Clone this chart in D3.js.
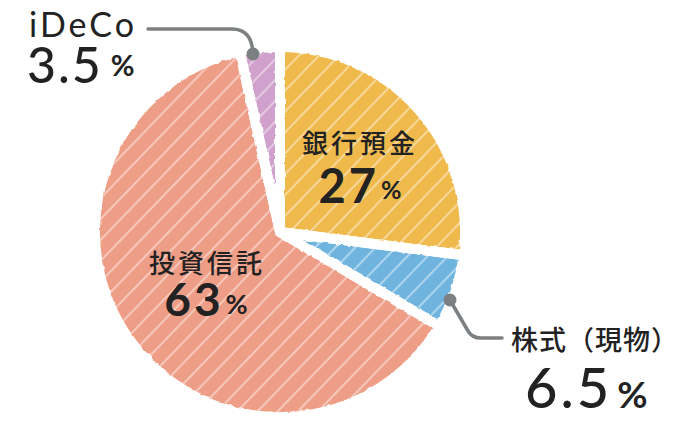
<!DOCTYPE html>
<html><head><meta charset="utf-8">
<script src="https://cdn.jsdelivr.net/npm/d3@7"></script>
<style>
html,body{margin:0;padding:0;background:#fff;}
svg{display:block;}
</style></head>
<body>
<svg id="chart" width="680" height="426"></svg>
<script>
const categories = ["銀行預金", "株式（現物）", "投資信託", "iDeCo"];
const values = [27, 6.5, 63, 3.5];
const valueLabels = ["27", "6.5", "63", "3.5"];
const colors = ["#EFB94C", "#6EB4DF", "#EE9D86", "#CFA1CC"];

const svg = d3.select("#chart");
const defs = svg.append("defs");

colors.forEach((c, i) => {
  const p = defs.append("pattern")
    .attr("id", "hatch" + i)
    .attr("patternUnits", "userSpaceOnUse")
    .attr("width", 20).attr("height", 14.5)
    .attr("patternTransform", "rotate(-46)");
  p.append("rect").attr("width", 20).attr("height", 14.5).attr("fill", c);
  p.append("line").attr("x1", 0).attr("x2", 20).attr("y1", 7).attr("y2", 7)
    .attr("stroke", "rgba(255,255,255,0.5)").attr("stroke-width", 1.8);
});

const f = defs.append("filter").attr("id", "rough")
  .attr("x", "-10%").attr("y", "-10%").attr("width", "120%").attr("height", "120%");
f.append("feTurbulence").attr("type", "fractalNoise").attr("baseFrequency", 0.15)
  .attr("numOctaves", 2).attr("seed", 3).attr("result", "n");
f.append("feDisplacementMap").attr("in", "SourceGraphic").attr("in2", "n")
  .attr("scale", 3).attr("xChannelSelector", "R").attr("yChannelSelector", "G");

const cx = 280, cy = 232, R = 185;
const pie = d3.pie().sort(null).value(d => d)(values);
const arc = d3.arc().innerRadius(0).outerRadius(R);

const g = svg.append("g").attr("transform", `translate(${cx},${cy})`);
g.selectAll("path.fill").data(pie).join("path")
  .attr("class", "fill")
  .attr("d", arc)
  .attr("fill", (d, i) => `url(#hatch${i})`);
g.selectAll("path.edge").data(pie).join("path")
  .attr("class", "edge")
  .attr("d", arc)
  .attr("fill", "none")
  .attr("stroke", "#fff")
  .attr("stroke-width", 10)
  .attr("stroke-linejoin", "round")
  .attr("filter", "url(#rough)");

// leader lines
const lineColor = "#7d8082";
svg.append("path").attr("d", "M148,29 H232 Q252,29 253,54")
  .attr("fill", "none").attr("stroke", lineColor).attr("stroke-width", 3.5).attr("stroke-linecap", "round");
svg.append("circle").attr("cx", 253).attr("cy", 54).attr("r", 6.5).attr("fill", lineColor);
svg.append("path").attr("d", "M450,300 L468,331 Q472,338 481,338 H502")
  .attr("fill", "none").attr("stroke", lineColor).attr("stroke-width", 3.5).attr("stroke-linecap", "round");
svg.append("circle").attr("cx", 450).attr("cy", 300).attr("r", 6.5).attr("fill", lineColor);

const jp = "'Noto Sans CJK JP','Noto Sans',sans-serif";
const num = "Lato,'Noto Sans',sans-serif";
const ink = "#222";

function catLabel(text, x, y, anchor, size, ls) {
  svg.append("text").attr("x", x).attr("y", y).attr("text-anchor", anchor)
    .attr("font-family", jp).attr("font-weight", 500).attr("font-size", size)
    .attr("letter-spacing", ls).attr("fill", ink).text(text);
}
function numLabel(v, x, y, anchor, size, pctSize, weight, raise, gap, ls) {
  const t = svg.append("text").attr("x", x).attr("y", y).attr("text-anchor", anchor)
    .attr("font-family", num).attr("fill", ink);
  t.append("tspan").attr("font-size", size).attr("font-weight", weight).attr("letter-spacing", ls).text(v);
  t.append("tspan").attr("font-size", pctSize).attr("font-weight", 700).attr("dx", gap).attr("dy", -raise).text("%");
}

// 銀行預金
catLabel(categories[0], 360, 153, "middle", 26, 3);
numLabel(valueLabels[0], 360, 203, "middle", 47, 25, 700, 4, 2, 3);
// 投資信託
catLabel(categories[2], 207, 273, "middle", 26, 3);
numLabel(valueLabels[2], 206, 316, "middle", 46, 27, 700, 2, 2, 3);
// iDeCo
svg.append("text").attr("x", 29).attr("y", 37).attr("font-family", num).attr("font-weight", 400)
  .attr("font-size", 34).attr("letter-spacing", 3).attr("fill", ink).text(categories[3]);
numLabel(valueLabels[3], 27, 83, "start", 50, 29, 500, 7, 8, 2);
// 株式（現物）
catLabel(categories[1], 511, 350, "start", 27, 1);
numLabel(valueLabels[1], 525, 408, "start", 56, 37, 500, 0, 5, 3);
</script>
</body></html>
